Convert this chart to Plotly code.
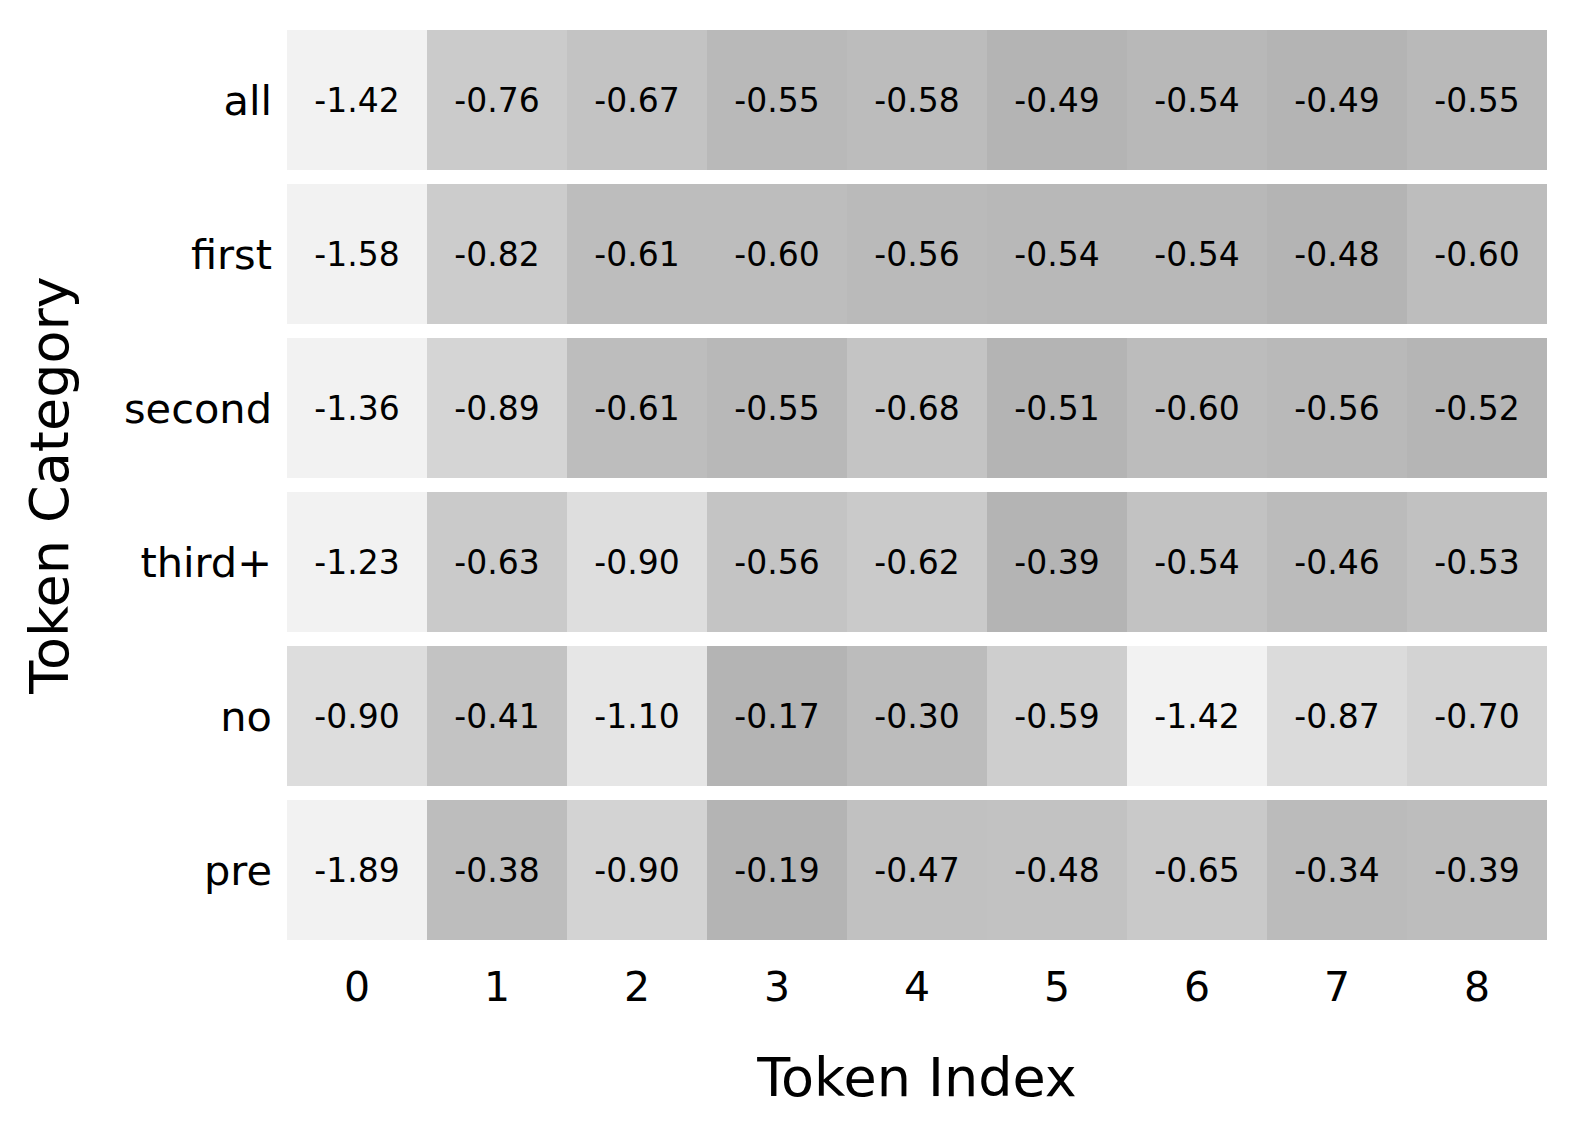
import plotly.graph_objects as go
import numpy as np

categories = ["all", "first", "second", "third+", "no", "pre"]
token_index = [0, 1, 2, 3, 4, 5, 6, 7, 8]

row_all = [-1.42, -0.76, -0.67, -0.55, -0.58, -0.49, -0.54, -0.49, -0.55]
row_first = [-1.58, -0.82, -0.61, -0.60, -0.56, -0.54, -0.54, -0.48, -0.60]
row_second = [-1.36, -0.89, -0.61, -0.55, -0.68, -0.51, -0.60, -0.56, -0.52]
row_third = [-1.23, -0.63, -0.90, -0.56, -0.62, -0.39, -0.54, -0.46, -0.53]
row_no = [-0.90, -0.41, -1.10, -0.17, -0.30, -0.59, -1.42, -0.87, -0.70]
row_pre = [-1.89, -0.38, -0.90, -0.19, -0.47, -0.48, -0.65, -0.34, -0.39]

values = np.array([row_all, row_first, row_second, row_third, row_no, row_pre])

# per-row normalisation (each row has its own colour scale)
mins = values.min(axis=1, keepdims=True)
maxs = values.max(axis=1, keepdims=True)
znorm = (values - mins) / (maxs - mins)
text = [[f"{v:.2f}" for v in row] for row in values]

colorscale = [
    [0.0, "rgb(242,242,242)"],
    [0.25, "rgb(230,230,230)"],
    [0.5, "rgb(216,216,216)"],
    [0.75, "rgb(200,200,200)"],
    [1.0, "rgb(180,180,180)"],
]

FONT = "DejaVu Sans"

fig = go.Figure(
    go.Heatmap(
        z=znorm,
        x=token_index,
        y=categories,
        text=text,
        texttemplate="%{text}",
        textfont=dict(family=FONT, size=33, color="black"),
        colorscale=colorscale,
        zmin=0,
        zmax=1,
        showscale=False,
        ygap=14,
        hovertemplate="%{y} / %{x}: %{text}<extra></extra>",
    )
)

fig.update_layout(
    width=1576,
    height=1139,
    margin=dict(l=287, r=29, t=23, b=192),
    paper_bgcolor="white",
    plot_bgcolor="white",
    font=dict(family=FONT, color="black"),
    xaxis=dict(
        tickmode="array",
        tickvals=token_index,
        ticktext=[str(t) for t in token_index],
        tickfont=dict(family=FONT, size=41, color="black"),
        showgrid=False,
        zeroline=False,
        showline=False,
        ticks="",
        ticklabelstandoff=12,
        title=dict(text="Token Index", font=dict(family=FONT, size=54, color="black"), standoff=48),
    ),
    yaxis=dict(
        autorange="reversed",
        tickfont=dict(family=FONT, size=41.5, color="black"),
        showgrid=False,
        zeroline=False,
        showline=False,
        ticks="",
        ticklabelstandoff=14,
        title=dict(text="Token Category", font=dict(family=FONT, size=54, color="black"), standoff=38),
    ),
)

fig.write_html("out.html")
